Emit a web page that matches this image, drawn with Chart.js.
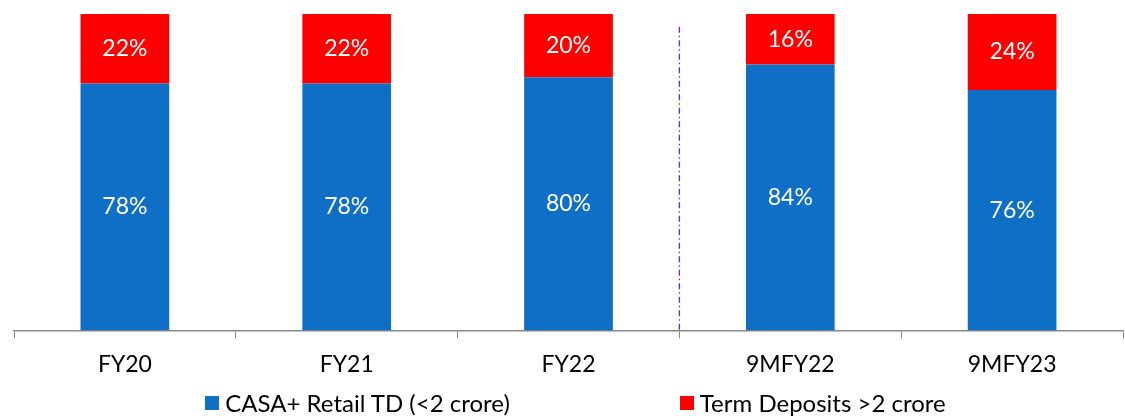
<!DOCTYPE html>
<html>
<head>
<meta charset="utf-8">
<script src="https://cdn.jsdelivr.net/npm/chart.js@4.4.0/dist/chart.umd.min.js"></script>
<style>
  html, body { margin: 0; padding: 0; background: #fff; }
  #wrap { position: relative; width: 1125px; height: 416px; }
  #legend {
    position: absolute; left: 26px; right: 0; top: 388px;
    display: flex; justify-content: center; gap: 170px;
    font-family: Lato, sans-serif; font-size: 24px; color: #000;
  }
  #legend .item { display: flex; align-items: center; }
  #legend .box { width: 14px; height: 14px; margin-right: 6px; }
</style>
</head>
<body>
<div id="wrap">
  <canvas id="depositChart" width="1125" height="416"></canvas>
  <div id="legend"></div>
</div>
<script>
// data
var periods = ['FY20', 'FY21', 'FY22', '9MFY22', '9MFY23'];
var casaRetail = [78, 78, 80, 84, 76];
var termDeposits = [22, 22, 20, 16, 24];
var seriesNames = ['CASA+ Retail TD (<2 crore)', 'Term Deposits >2 crore'];

// white % labels in the middle of each segment
var segmentLabels = {
    id: 'segmentLabels',
    afterDatasetsDraw: function (chart) {
        var ctx = chart.ctx;
        ctx.save();
        ctx.fillStyle = '#ffffff';
        ctx.font = '23px Lato, sans-serif';
        ctx.textAlign = 'center';
        ctx.textBaseline = 'middle';
        chart.data.datasets.forEach(function (ds, i) {
            chart.getDatasetMeta(i).data.forEach(function (bar, j) {
                var mid = (bar.y + bar.base) / 2;
                ctx.fillText(ds.data[j] + '%', bar.x, mid);
            });
        });
        ctx.restore();
    }
};

// dash-dot divider between FY22 and 9MFY22
var periodDivider = {
    id: 'periodDivider',
    afterDatasetsDraw: function (chart) {
        var x = chart.scales.x.getPixelForValue(2.5);
        var top = chart.scales.y.getPixelForValue(96);
        var bottom = chart.scales.y.getPixelForValue(0);
        var ctx = chart.ctx;
        ctx.save();
        ctx.strokeStyle = '#7030A0';
        ctx.lineWidth = 1.4;
        ctx.setLineDash([6, 3, 1.5, 3]);
        ctx.beginPath();
        ctx.moveTo(x, top);
        ctx.lineTo(x, bottom);
        ctx.stroke();
        ctx.restore();
    }
};

var chart = new Chart(document.getElementById('depositChart'), {
    type: 'bar',
    data: {
        labels: periods,
        datasets: [
            {
                label: seriesNames[0],
                data: casaRetail,
                backgroundColor: '#0F6FC6',
                barPercentage: 0.4,
                categoryPercentage: 1.0
            },
            {
                label: seriesNames[1],
                data: termDeposits,
                backgroundColor: '#FF0000',
                barPercentage: 0.4,
                categoryPercentage: 1.0
            }
        ]
    },
    options: {
        responsive: false,
        animation: false,
        layout: { padding: { top: 14, left: 14, right: 2, bottom: 26 } },
        plugins: {
            legend: { display: false },
            tooltip: { enabled: false }
        },
        scales: {
            x: {
                stacked: true,
                grid: {
                    offset: true,
                    drawOnChartArea: false,
                    tickLength: 8,
                    color: '#888888'
                },
                border: { color: '#888888', width: 1.5 },
                ticks: {
                    color: '#000000',
                    padding: 12,
                    font: { family: 'Lato, sans-serif', size: 23 }
                }
            },
            y: {
                stacked: true,
                display: false,
                min: 0,
                max: 100
            }
        }
    },
    plugins: [segmentLabels, periodDivider]
});

// legend under the axis
var legend = document.getElementById('legend');
chart.data.datasets.forEach(function (ds) {
    var item = document.createElement('div');
    item.className = 'item';
    var box = document.createElement('span');
    box.className = 'box';
    box.style.background = ds.backgroundColor;
    var txt = document.createElement('span');
    txt.textContent = ds.label;
    item.appendChild(box);
    item.appendChild(txt);
    legend.appendChild(item);
});
</script>
</body>
</html>
